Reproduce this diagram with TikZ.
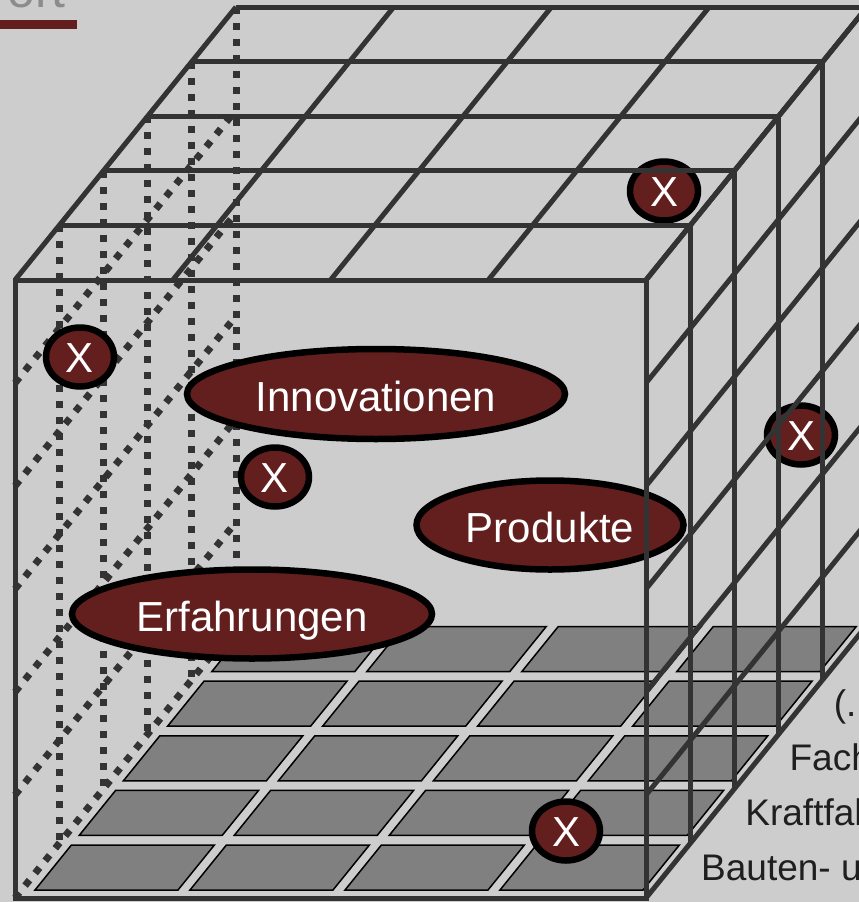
\documentclass[tikz,border=0pt]{standalone}
\usepackage{fontspec}
\setmainfont{Liberation Sans}
\usetikzlibrary{shapes.geometric}

\definecolor{slide}{RGB}{205,205,205}
\definecolor{wine}{RGB}{99,30,30}
\definecolor{rod}{RGB}{51,51,51}
\definecolor{slab}{RGB}{128,128,128}

\begin{document}
\begin{tikzpicture}[x=1pt, y=-1pt]
  \tikzstyle{wire}=[draw=rod, line width=5pt]
  \tikzstyle{hidden}=[draw=rod, line width=7pt, dash pattern=on 7pt off 9pt]
  \tikzstyle{plate}=[fill=slab, draw=black, line width=1.5pt]
  \tikzstyle{blob}=[ellipse, fill=wine, draw=black, line width=6.5pt, text=white,
    inner sep=0pt, text height=34pt, text depth=0pt, font=\fontsize{42}{42}\selectfont]
  \tikzstyle{cross}=[blob, minimum width=68pt, minimum height=59pt, text height=30pt]
  \tikzstyle{branch}=[anchor=base west, inner sep=0pt, text=black!88,
    font=\fontsize{37}{37}\selectfont]

  \useasboundingbox (0,0) rectangle (859,902);
  \clip (0,0) rectangle (859,902);
  \fill[slide] (0,0) rectangle (859,902);

  \node[anchor=base east, inner sep=0pt, text=black!45,
    font=\fontsize{50}{50}\selectfont] (title) at (66,8) {ort};
  \fill[wine] (0,20) rectangle (77,29);

  \foreach \r in {0,...,4}
    \foreach \c in {0,...,3}
      \path[plate] ({35+155*\c+44.2*\r},{890-54.6*\r}) -- ++(143,0)
        -- ++(36.4,-45) -- ++(-143,0) -- cycle;

  \foreach \k in {1,...,5}
    \path[hidden] ({15+44.2*\k},{280-54.6*\k}) -- ++(0,618);
  \foreach \i in {1,...,6}
    \path[hidden] (15,{280+103*\i}) -- ++(221,-273);

  \node[blob, minimum width=378pt, minimum height=90pt] (inno) at (376,394) {Innovationen};
  \node[blob, minimum width=360pt, minimum height=89pt] (erf) at (252,614) {Erfahrungen};
  \node[blob, minimum width=267pt, minimum height=89pt] (prod) at (550,525) {Produkte};
  \node[cross] (x1) at (80,357) {X};
  \node[cross] (x2) at (275,477) {X};
  \node[cross] (x3) at (566,831) {X};
  \node[cross] (x4) at (664,191) {X};
  \node[cross] (x5) at (801,435) {X};

  \path[wire] (15,280) rectangle (646,898);
  \foreach \k in {1,...,5}
    \path[wire] ({15+44.2*\k},{280-54.6*\k}) -- ++(631,0) -- ++(0,618);
  \foreach \j in {0,...,4}
    \path[wire] ({15+157.75*\j},280) -- ++(221,-273);
  \foreach \i in {0,...,6}
    \path[wire] (646,{280+103*\i}) -- ++(221,-273);

  \foreach \r/\t in {0/Bauten- u, 1/Kraftfah, 2/Fach, 3/{(...)}}
    \node[branch] (row\r) at ({701+44.2*\r},{880-54.6*\r}) {\t};
\end{tikzpicture}
\end{document}
